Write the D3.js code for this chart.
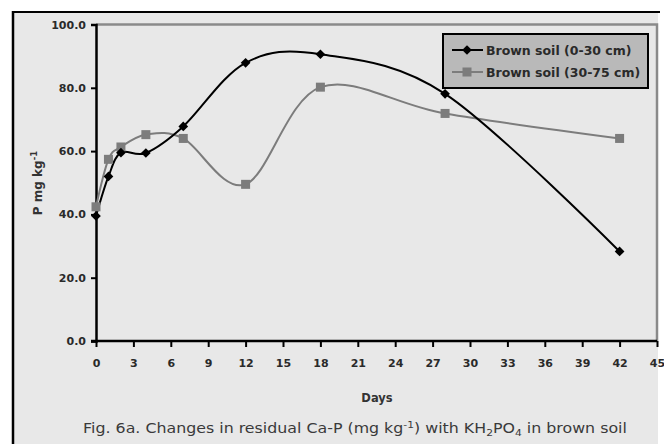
<!DOCTYPE html>
<html><head><meta charset="utf-8">
<script src="https://cdn.jsdelivr.net/npm/d3@7"></script>
<style>body{margin:0;background:#fff}svg{display:block}text{font-family:"DejaVu Sans",Arial,sans-serif}</style>
</head><body><svg id="c" width="664" height="444"></svg>
<script>
const days = [0, 1, 2, 4, 7, 12, 18, 28, 42];
const soil0_30 = [39.5, 52.0, 59.5, 59.4, 67.8, 87.9, 90.6, 78.1, 28.3];
const soil30_75 = [42.4, 57.4, 61.3, 65.2, 64.0, 49.5, 80.2, 71.9, 64.0];
const seriesNames = ["Brown soil (0-30 cm)", "Brown soil (30-75 cm)"];
const xTicks = d3.range(0, 46, 3);
const yTicks = [0, 20, 40, 60, 80, 100];

const svg = d3.select("#c");
const L = 96, R = 657, T = 24.5, B = 341;
const x = d3.scaleLinear().domain([0, 45]).range([L, R]);
const y = d3.scaleLinear().domain([0, 100]).range([B, T]);

// frame
svg.append("rect").attr("x", 13).attr("y", 12).attr("width", 645).attr("height", 440).attr("fill", "#e8e8e8");
svg.append("line").attr("x1", 13).attr("x2", 13).attr("y1", 11).attr("y2", 444).attr("stroke", "#000").attr("stroke-width", 2.5);
svg.append("line").attr("x1", 12).attr("x2", 660).attr("y1", 12).attr("y2", 12).attr("stroke", "#000").attr("stroke-width", 2);

// plot border top/right
svg.append("path").attr("d", `M${L},${T}H${R}V${B}`).attr("fill", "none").attr("stroke", "#8a8a8a").attr("stroke-width", 2.5);

// axes
const ya = svg.append("g").attr("transform", `translate(${L},0)`)
  .call(d3.axisLeft(y).tickValues(yTicks).tickSize(5).tickPadding(5).tickFormat(d3.format(".1f")));
const xa = svg.append("g").attr("transform", `translate(0,${B})`)
  .call(d3.axisBottom(x).tickValues(xTicks).tickSize(6).tickPadding(12).tickFormat(d3.format("d")));
[ya, xa].forEach(a => {
  a.select(".domain").attr("stroke", "#000").attr("stroke-width", 2.5);
  a.selectAll(".tick line").attr("stroke", "#000").attr("stroke-width", 2);
  a.selectAll(".tick text").attr("fill", "#2a2a2a").attr("font-size", 11).attr("font-weight", "bold")
    .attr("font-family", "DejaVu Sans");
});
xa.select(".domain").attr("d", `M${L - 5},0H${R}`);

// lines
const line = d3.line().x(d => x(d[0])).y(d => y(d[1])).curve(d3.curveCatmullRom.alpha(0));
const d1 = days.map((d, i) => [d, soil0_30[i]]);
const d2 = days.map((d, i) => [d, soil30_75[i]]);
const grey = "#7c7c7c";
svg.append("path").datum(d2).attr("d", line).attr("fill", "none").attr("stroke", grey).attr("stroke-width", 2);
svg.append("path").datum(d1).attr("d", line).attr("fill", "none").attr("stroke", "#000").attr("stroke-width", 2);
const diamond = d3.symbol().type(d3.symbolDiamond2).size(60);
svg.selectAll(".sq").data(d2).join("rect")
  .attr("x", d => x(d[0]) - 4.5).attr("y", d => y(d[1]) - 4.5).attr("width", 9).attr("height", 9).attr("fill", grey);
svg.selectAll(".dm").data(d1).join("path").attr("d", diamond)
  .attr("transform", d => `translate(${x(d[0])},${y(d[1])})`).attr("fill", "#000");

// legend
const lg = svg.append("g");
lg.append("rect").attr("x", 443).attr("y", 34).attr("width", 205).attr("height", 54)
  .attr("fill", "#b9b9b9").attr("stroke", "#000").attr("stroke-width", 2);
[[0, "#000"], [1, grey]].forEach(([i, c]) => {
  const yy = 50 + i * 22;
  lg.append("line").attr("x1", 452).attr("x2", 483).attr("y1", yy).attr("y2", yy).attr("stroke", c).attr("stroke-width", 2);
  if (i === 0) lg.append("path").attr("d", diamond).attr("transform", `translate(467,${yy})`).attr("fill", c);
  else lg.append("rect").attr("x", 462.5).attr("y", yy - 4.5).attr("width", 9).attr("height", 9).attr("fill", c);
  lg.append("text").attr("x", 486).attr("y", yy + 4.5).attr("font-size", 12.5).attr("font-weight", "bold")
    .attr("fill", "#2a2a2a").text(seriesNames[i]);
});

// axis titles
svg.append("text").attr("x", 377).attr("y", 402).attr("text-anchor", "middle").attr("font-size", 11.5)
  .attr("font-weight", "bold").attr("fill", "#333").text("Days");
const yt = svg.append("text").attr("transform", "translate(42,183) rotate(-90)").attr("text-anchor", "middle")
  .attr("font-size", 12).attr("font-weight", "bold").attr("fill", "#333");
yt.append("tspan").text("P mg kg");
yt.append("tspan").attr("dy", -5).attr("font-size", 8.5).text("-1");

// caption (horizontally stretched like the reference)
const cap = svg.append("text").attr("x", 0).attr("y", 0).attr("text-anchor", "middle")
  .attr("font-size", 14).attr("fill", "#3a3a3a");
cap.append("tspan").text("Fig. 6a. Changes in residual Ca-P (mg kg");
cap.append("tspan").attr("dy", -5).attr("font-size", 9.5).text("-1");
cap.append("tspan").attr("dy", 5).text(") with KH");
cap.append("tspan").attr("dy", 3).attr("font-size", 9.5).text("2");
cap.append("tspan").attr("dy", -3).text("PO");
cap.append("tspan").attr("dy", 3).attr("font-size", 9.5).text("4");
cap.append("tspan").attr("dy", -3).text(" in brown soil");
const cw = cap.node().getBBox().width;
cap.attr("transform", `translate(355,433) scale(${544 / cw},1)`);
</script></body></html>
